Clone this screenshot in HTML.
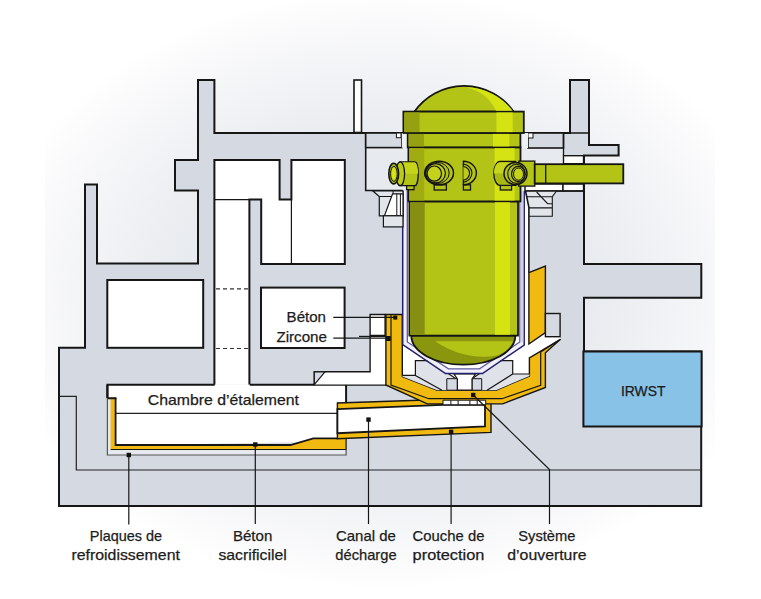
<!DOCTYPE html>
<html><head><meta charset="utf-8">
<style>
html,body{margin:0;padding:0;background:#fff;}
body{width:761px;height:599px;overflow:hidden;position:relative;}
svg{position:absolute;left:0;top:0;}
text{font-family:"Liberation Sans",sans-serif;fill:#1c1c1c;}
</style></head><body>
<svg width="761" height="599" viewBox="0 0 761 599">
<defs>
<radialGradient id="bg" cx="0" cy="0" r="1" gradientUnits="userSpaceOnUse" gradientTransform="translate(385,290) scale(400,300)">
<stop offset="0" stop-color="#dde2e8"/>
<stop offset="0.5" stop-color="#e8ebef"/>
<stop offset="0.65" stop-color="#eef0f3"/>
<stop offset="0.8" stop-color="#f5f6f8"/>
<stop offset="0.92" stop-color="#fbfbfc"/>
<stop offset="1" stop-color="#ffffff"/>
</radialGradient>
</defs>
<rect x="45" y="0" width="670" height="591" fill="url(#bg)"/>

<!-- concrete body -->
<path d="M85,184.5 H97 V263.5 H198 V190.4 H175 V160 H198 V80 H214.4 V133 H403 V133 H570 V80 H589 V145 H618.6 V155.4 H584 V264 H701.3 V297.7 H584 V351.4 H701.2 V506 H59 V347.8 H85 Z" fill="#d5dae2" stroke="#161616" stroke-width="2"/>
<!-- white tower -->
<rect x="354" y="80" width="7.5" height="52.5" fill="#fff" stroke="#161616" stroke-width="1.6"/>

<!-- room A -->
<path d="M214.4,160 H279.6 V199.6 H291.4 V160 H344.8 V264 H261.2 V199.6 H249.4 V384.7 H214.4 Z" fill="#fff"/>
<path d="M214.4,384.7 V160 H279.6 V199.6 H291.4 V160 H344.8 V264 H261.2 V199.6 H249.4 V384.7" fill="none" stroke="#161616" stroke-width="2"/>
<path d="M214.4,199.6 H249.4 M291.4,199.6 V264" stroke="#161616" stroke-width="1.2" fill="none"/>
<path d="M216,288.9 H249 M216,348.5 H249" stroke="#333" stroke-width="1.2" stroke-dasharray="4,3" fill="none"/>
<!-- room C -->
<rect x="107.3" y="280" width="95.9" height="67.8" fill="#fff" stroke="#161616" stroke-width="2"/>
<!-- room D -->
<rect x="261" y="287.6" width="83.6" height="60.4" fill="#fff" stroke="#161616" stroke-width="2"/>

<!-- outer thin line -->
<path d="M59.5,396.4 H76.3 V470 H701" stroke="#222" stroke-width="1.2" fill="none"/>

<!-- chambre -->
<path d="M107.4,384.7 H346.1 V402 H337.4 V438.4 H313.4 L300,442.2 L115.6,445.2 V397.8 H107.4 Z" fill="#fff"/>
<path d="M107.4,398 V384.7 H214.7 M249.8,384.7 H386 M346.1,384.7 V402" stroke="#161616" stroke-width="2" fill="none"/>
<path d="M115.6,413.4 H337.4" stroke="#222" stroke-width="1.2"/>
<!-- yellow chambre floor -->
<path d="M107.4,398 H110.6 V449.5 H346.1 V455 H107.4 Z" fill="#e6e9ee"/>
<path d="M110.6,397.8 H115.6 V445 H290.4 L313.4,438.4 H346.1 V449.5 H110.6 Z" fill="#f1ba10"/>
<path d="M115.6,397.8 V445 H290.4 L313.4,438.4 H337.4" stroke="#161616" stroke-width="1.8" fill="none"/>
<path d="M110.6,449.5 H346.1 V438.4" stroke="#161616" stroke-width="1.2" fill="none"/>
<path d="M107.4,398.2 H116.4 M107.4,385 V398" stroke="#161616" stroke-width="2" fill="none"/>
<path d="M107.4,398 V455 H346.1 V449.5" stroke="#555" stroke-width="1.2" fill="none"/>

<!-- white strip near catcher -->
<path d="M314.3,384.6 V371.8 H369.8 V314.8 H386 V384.6 Z" fill="#fff" stroke="none"/>
<path d="M314.3,384.6 V371.8 H370.1 V314.5 H386" stroke="#161616" stroke-width="1.4" fill="none"/>
<path d="M370.1,335.4 H385.1 V314.5" stroke="#161616" stroke-width="1.4" fill="none"/>
<path d="M314.3,371.8 H325 L314.3,384.6 Z" fill="#d5dae2" stroke="#161616" stroke-width="1.2"/>

<!-- canal de decharge -->
<path d="M337.4,403 L441,399.5 H491 V432.4 L337.4,438.8 Z" fill="#f1ba10" stroke="#161616" stroke-width="1.4"/>
<path d="M337.4,409.1 L443,404.8 H485 V426.5 L337.4,433.2 Z" fill="#fff" stroke="#161616" stroke-width="1.8"/>


<!-- cavity -->
<path d="M402.3,186 V376.6 L437.3,390.2 H496 L529.4,376 V358 L560.5,339 V313.5 H545.4 V266 L528.9,272.7 V186 Z" fill="#fff"/>
<!-- core catcher -->
<path d="M385.9,314.5 V385 L427.3,403.9 H502.7 L545.4,387.4 V352.7 L560.5,339.3 L529.4,358 V376 L496,390.2 H437.3 L402.3,376.6 V314.5 Z" fill="#f1ba10" stroke="#161616" stroke-width="1.4" stroke-linejoin="miter"/>
<path d="M391,314.5 V385 L428.9,398.7 H502 L540.7,385.4 V352 L560.5,339.3" fill="none" stroke="#161616" stroke-width="1.2"/>
<!-- right wedge -->
<path d="M528.9,272.7 L545.4,266 V332.7 L528.9,344 Z" fill="#f1ba10" stroke="#161616" stroke-width="1.4"/>
<rect x="545.4" y="313.5" width="14.7" height="23.2" fill="#d5dae2" stroke="#161616" stroke-width="1.4"/>
<!-- openings -->
<path d="M443,400.2 H485.7 V404.8 H443 Z" fill="#fff" stroke="#161616" stroke-width="1"/>
<path d="M450.9,400.2 V404.8 M458.1,400.2 V404.8 M469.9,400.2 V404.8 M477.2,400.2 V404.8" stroke="#161616" stroke-width="1"/>

<!-- supports under vessel -->
<path d="M402.3,376.6 V375.4 H415.4 V360.7 H429.4 L456,378.7 V390.2 H437.3 Z" fill="#dfe2e8"/>
<path d="M402.3,375.4 H415.4 V360.7 H429.4 L456,378.7 V390.2 M415.4,375.4 L442,390.2" fill="none" stroke="#161616" stroke-width="1.2"/>
<path d="M529.4,376 V374 H512.7 V360.7 H498 L472,378.7 V390.2 H496 Z" fill="#dfe2e8"/>
<path d="M529.4,374 H512.7 V360.7 H498 L472,378.7 V390.2 M512.7,374 L487,390.2" fill="none" stroke="#161616" stroke-width="1.2"/>
<path d="M446.8,378.7 H457.4 V390.2 H446.8 Z M472,378.7 H481.7 V390.2 H472 Z" fill="#d5dae2" stroke="#161616" stroke-width="1"/>
<path d="M454,374 H475.5 L472,379 V390.2 H457.4 V379 Z" fill="#fff" stroke="#161616" stroke-width="1.2"/>
<!-- liner -->
<path d="M405,186 V343.2 L447,371.2 H481 L522,343.5 V186" fill="none" stroke="#f0effa" stroke-width="4"/>
<path d="M402.7,186 V344.5 L445.5,373.5 H482.5 L524.2,345 V186" fill="none" stroke="#22206a" stroke-width="1.5"/>
<path d="M407.3,186 V342 L448.5,368.8 H479.5 L519.8,342 V186" fill="none" stroke="#5d5a9e" stroke-width="1.3"/>
<path d="M522,191 V342" fill="none" stroke="#d2cfea" stroke-width="2.6"/>

<!-- left cavity top -->
<rect x="365.7" y="147.6" width="43" height="42.9" fill="#e7eaee"/>
<path d="M365.7,133 V190.5 H402.6" fill="none" stroke="#161616" stroke-width="1.6"/>
<rect x="365.7" y="133" width="36.1" height="14.6" fill="#d5dae2" stroke="#161616" stroke-width="1.6"/>
<rect x="396.4" y="133" width="4.6" height="4.7" fill="#fff" stroke="#161616" stroke-width="1"/>
<rect x="401.8" y="133" width="6" height="14.6" fill="#eef0f3"/>
<path d="M372.9,191 L379.3,196.5 V215.8 H403 V191 Z" fill="#e2e5ea" stroke="#161616" stroke-width="1.2"/>
<path d="M379.3,196.5 H393.1 M393.1,191 V196.5" stroke="#161616" stroke-width="1" fill="none"/>
<path d="M392.6,193.8 L384.4,215.8 H403 V193.8 Z" fill="#fff" stroke="#161616" stroke-width="1.2"/>
<path d="M396.8,193.8 V215.8 M400.4,193.8 V215.8" stroke="#161616" stroke-width="1"/>
<rect x="383.4" y="215.8" width="19.6" height="11.1" fill="#e2e5ea" stroke="#161616" stroke-width="1.2"/>
<!-- right cavity top -->
<rect x="520" y="147.6" width="43.5" height="43.5" fill="#e7eaee"/>
<rect x="528" y="133" width="35.5" height="15" fill="#d5dae2" stroke="#161616" stroke-width="1.6"/>
<rect x="528" y="133" width="5" height="5" fill="#fff" stroke="#161616" stroke-width="1"/>
<rect x="520.4" y="133" width="7.6" height="15" fill="#eef0f3"/>
<path d="M563.5,133 V155.7 M563.5,133 H589" stroke="#161616" stroke-width="1.3"/>
<rect x="563.5" y="155.7" width="20" height="8" fill="#fff" stroke="#161616" stroke-width="1.4"/>
<rect x="525" y="184" width="38" height="7" fill="#fff" stroke="#161616" stroke-width="1.4"/>
<rect x="563" y="184" width="20.5" height="7" fill="#fff" stroke="#161616" stroke-width="1.4"/>
<path d="M525.5,191 L556.5,191 L552.3,196.8 V216.3 H529 V207.3 Z" fill="#e2e5ea"/>
<path d="M525.5,191 H584 M525.5,191 L528.9,207.3 V272.7" stroke="#161616" stroke-width="1.6" fill="none"/>
<path d="M527,196.8 H552.3 M536.6,192 L547.6,203.7 H552.3 M556.5,191 L552.3,196.8 V216.3 H529 M529,207.9 H552.3" stroke="#161616" stroke-width="1.1" fill="none"/>



<!-- vessel -->
<g stroke="#141414" stroke-width="1.8">
<path d="M414.5,111.6 A60.6,60.6 0 0 1 513.6,111.6 Z" fill="#b4c416"/>
<path d="M411.3,335.6 A52.05,29.1 0 0 0 515.4,335.6 Z" fill="#8a960e"/>
<rect x="409.4" y="201.4" width="108.6" height="134.2" fill="#b4c416"/>
<rect x="408.4" y="147.3" width="112.1" height="54.1" fill="#b4c416"/>
<rect x="407.7" y="133" width="112.7" height="14.3" fill="#b4c416"/>
<rect x="403.4" y="111.6" width="120.4" height="21.4" fill="#b4c416"/>
</g>
<!-- shading -->
<rect x="410.3" y="202.3" width="14.4" height="132.4" fill="#868f12"/>
<rect x="495" y="202.3" width="15" height="132.4" fill="#d5e312"/>
<rect x="409.3" y="148.2" width="14.9" height="52.3" fill="#a0ac12"/>
<rect x="494.6" y="148.2" width="20" height="52.3" fill="#d5e312"/>
<rect x="408.6" y="133.9" width="15.4" height="12.5" fill="#96a112"/>
<rect x="493" y="133.9" width="16.3" height="12.5" fill="#d5e312"/>
<rect x="404.3" y="112.5" width="15.3" height="19.6" fill="#96a112"/>
<path d="M466,87.3 A60.6,60.6 0 0 1 512.6,110.7 H496 Q487,92 466,87.3 Z" fill="#d5e312"/>
<rect x="496.5" y="112.5" width="16.2" height="19.6" fill="#d5e312"/>
<path d="M435,341.2 H513 Q509,351 497,355.5 Q465,361 435,341.2 Z" fill="#b4c416"/>

<!-- nozzles -->
<g stroke="#141414" stroke-width="1.3">
<!-- right block & pipe -->
<rect x="518.8" y="161.1" width="16" height="25" fill="#b4c416"/>
<rect x="534.7" y="164.2" width="88.6" height="19.2" fill="#b4c416" stroke-width="1.8"/>
<path d="M545.7,164.2 V183.4" fill="none"/>
<!-- left nozzle -->
<rect x="406.6" y="185.4" width="7.4" height="4.3" fill="#b4c416"/>
<path d="M400.2,161.9 H415 A3.2,11.9 0 0 1 415,185.7 H400.2 Z" fill="#b4c416"/>
<path d="M400.2,162.6 H415 A3.2,11.2 0 0 1 418.1,173.8 H400.2 Z" fill="#c6d41a" stroke="none"/>
<ellipse cx="400.2" cy="173.8" rx="4.4" ry="11.9" fill="#bccb18"/>
<ellipse cx="393.7" cy="173.6" rx="4.9" ry="10.3" fill="#b4c416" stroke-width="1.6"/>
<ellipse cx="393.9" cy="173.8" rx="3.3" ry="7.6" fill="none" stroke-width="1"/>
<ellipse cx="393.9" cy="173.8" rx="2.3" ry="6" fill="#d5e312" stroke="none"/>
<!-- nozzle 2 -->
<rect x="434.2" y="184.8" width="12.2" height="5.2" fill="#b4c416"/>
<ellipse cx="439.1" cy="173" rx="14.4" ry="11.8" fill="#b4c416" stroke-width="1.5"/>
<ellipse cx="437.2" cy="173" rx="12" ry="10.6" fill="none" stroke-width="1"/>
<ellipse cx="435.6" cy="173.3" rx="9.8" ry="9.6" fill="#bccb18" stroke-width="1.2"/>
<ellipse cx="434.3" cy="173.6" rx="7.2" ry="7.6" fill="#c4d21a" stroke-width="1.2"/>
<!-- half nozzle -->
<rect x="463.4" y="184.8" width="7.1" height="5.2" fill="#b4c416"/>
<path d="M463.4,161.3 A13,11.75 0 0 1 463.4,184.8 Z" fill="#b4c416" stroke-width="1.4"/>
<path d="M463.4,164 A10,9.2 0 0 1 463.4,182.2" fill="none" stroke-width="1.1"/>
<path d="M463.4,166.5 A7,6.8 0 0 1 463.4,180" fill="#bccb18" stroke-width="1.1"/>
<!-- right nozzle -->
<rect x="500.3" y="185.4" width="11.3" height="4.6" fill="#b4c416"/>
<path d="M515.5,161.5 H500 A6.2,11.95 0 0 0 500,185.4 H515.5 Z" fill="#a9b814"/>
<path d="M515.5,162.2 H500 A6.2,11.3 0 0 0 493.8,173.5 H515.5 Z" fill="#c6d41a" stroke="none"/>
<ellipse cx="515.5" cy="173.6" rx="11.5" ry="11.1" fill="#b4c416" stroke-width="1.5"/>
<ellipse cx="516.5" cy="173.8" rx="8.8" ry="9.6" fill="none" stroke-width="1.1"/>
<ellipse cx="518.2" cy="174" rx="6.7" ry="7.7" fill="#b4c416" stroke-width="1.2"/>
<ellipse cx="518.5" cy="174.1" rx="5" ry="6.1" fill="#c4d21a" stroke-width="1"/>
</g>

<!-- IRWST -->
<rect x="583.4" y="351.5" width="118.2" height="75" fill="#88c2e6" stroke="#161616" stroke-width="2"/>
<!-- leader lines -->
<g stroke="#161616" stroke-width="1.2" fill="none">
<path d="M333.3,317.4 H394.6"/>
<path d="M333.3,338.2 H388.6"/><path d="M359,336.4 H386"/>
<path d="M128.8,455 V524.6"/>
<path d="M255.3,444.5 V524"/>
<path d="M368.5,419.6 V524"/>
<path d="M451.1,431.8 V524"/>
<path d="M473.2,395 L549.5,469.5 V524"/>
</g>
<g fill="#111">
<rect x="393.3" y="315.6" width="4" height="4"/>
<rect x="385.9" y="336" width="4.8" height="5"/>
<rect x="126.6" y="452.8" width="4.4" height="4.4"/>
<rect x="253.1" y="442.3" width="4.4" height="4.4"/>
<rect x="366.3" y="417.4" width="4.4" height="4.4"/>
<rect x="448.9" y="429.6" width="4.4" height="4.4"/>
<rect x="471" y="392.8" width="4.4" height="4.4"/>
</g>
<!-- text -->
<g font-size="15" stroke="#1c1c1c" stroke-width="0.25">
<text x="286.6" y="322.3" textLength="39.4" lengthAdjust="spacingAndGlyphs">Béton</text>
<text x="276.4" y="341.5" textLength="50.6" lengthAdjust="spacingAndGlyphs">Zircone</text>
<text x="147.8" y="405.1" textLength="151.2" lengthAdjust="spacingAndGlyphs">Chambre d’étalement</text>
<text x="621" y="396.2" textLength="44.4" lengthAdjust="spacingAndGlyphs" font-size="14">IRWST</text>
<text x="89.8" y="540.6" textLength="72.3" lengthAdjust="spacingAndGlyphs">Plaques de</text>
<text x="71.4" y="559.6" textLength="108.5" lengthAdjust="spacingAndGlyphs">refroidissement</text>
<text x="232.9" y="540.6" textLength="39.4" lengthAdjust="spacingAndGlyphs">Béton</text>
<text x="218.4" y="559.6" textLength="68.3" lengthAdjust="spacingAndGlyphs">sacrificilel</text>
<text x="336" y="540.6" textLength="59.8" lengthAdjust="spacingAndGlyphs">Canal de</text>
<text x="335.3" y="559.6" textLength="61.3" lengthAdjust="spacingAndGlyphs">décharge</text>
<text x="412.6" y="540.6" textLength="71.8" lengthAdjust="spacingAndGlyphs">Couche de</text>
<text x="412.6" y="559.6" textLength="71.8" lengthAdjust="spacingAndGlyphs">protection</text>
<text x="518.3" y="540.6" textLength="57.1" lengthAdjust="spacingAndGlyphs">Système</text>
<text x="507.3" y="559.6" textLength="79.2" lengthAdjust="spacingAndGlyphs">d’ouverture</text>
</g>
</svg>
</body></html>
